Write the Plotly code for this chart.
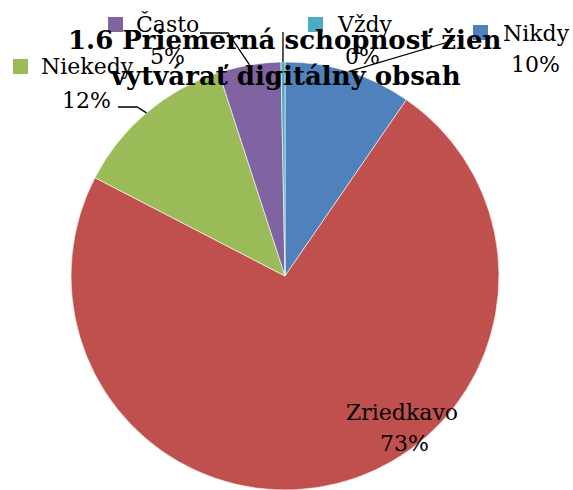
import math
import plotly.graph_objects as go

# slices, clockwise from 12 o'clock
labels = ["Nikdy", "Zriedkavo", "Niekedy", "Často", "Vždy"]
values = [9.6, 73.0, 12.4, 4.7, 0.3]
colors = ["#4F81BD", "#C0504D", "#9BBB59", "#8064A2", "#4BACC6"]

title_lines = ["1.6 Priemerná schopnosť žien", "vytvárať digitálny obsah"]

W, H = 573, 490
# pie geometry in pixels
cx, cy, r = 285, 276, 214

def px(x):
    return x / W

def py(y):
    return 1 - y / H

total = sum(values)
pcts = [round(v / total * 100) for v in values]

fig = go.Figure(go.Pie(
    labels=labels, values=values, sort=False, direction="clockwise", rotation=0,
    marker=dict(colors=colors, line=dict(color="white", width=0.6)),
    textinfo="none", hoverinfo="label+percent", showlegend=False,
    domain=dict(x=[px(cx - r), px(cx + r)], y=[py(cy + r), py(cy - r)]),
))

# edge point of each slice at its mid angle
edge = {}
acc = 0
for lab, v in zip(labels, values):
    mid = (acc + v / 2) / total * 2 * math.pi
    edge[lab] = (cx + r * math.sin(mid), cy - r * math.cos(mid))
    acc += v

# label placement: name centre, pct centre, key square, leader start points
place = {
    "Často": dict(name=(167, 24), pct=(167, 57), key=(108, 17), lead=[(200, 33), (228, 33)]),
    "Vždy": dict(name=(365, 24), pct=(362, 57), key=(308, 17), lead=[(283, 32)]),
    "Nikdy": dict(name=(536, 33), pct=(535, 64), key=(473, 25), lead=[(455, 40)]),
    "Niekedy": dict(name=(87, 66), pct=(86, 100), key=(13, 59), lead=[(118, 107), (137, 107)]),
    "Zriedkavo": dict(name=(402, 412), pct=(404, 443), key=None, lead=None),
}

lab_font = dict(family="DejaVu Serif", size=22, color="black")
for lab, col, p in zip(labels, colors, pcts):
    pl = place[lab]
    if pl["lead"]:
        pts = pl["lead"] + [edge[lab]]
        path = "M " + " L ".join(f"{px(x)},{py(y)}" for x, y in pts)
        fig.add_shape(type="path", path=path, xref="paper", yref="paper",
                      line=dict(color="black", width=1.3))
    if pl["key"]:
        kx, ky = pl["key"]
        fig.add_shape(type="rect", xref="paper", yref="paper",
                      x0=px(kx), x1=px(kx + 15), y0=py(ky + 15), y1=py(ky),
                      fillcolor=col, line=dict(width=0))
    fig.add_annotation(text=lab, x=px(pl["name"][0]), y=py(pl["name"][1]),
                       xref="paper", yref="paper", xanchor="center", yanchor="middle",
                       showarrow=False, font=lab_font)
    fig.add_annotation(text=f"{p}%", x=px(pl["pct"][0]), y=py(pl["pct"][1]),
                       xref="paper", yref="paper", xanchor="center", yanchor="middle",
                       showarrow=False, font=lab_font)

title_font = dict(family="DejaVu Serif", size=26, color="black")
for line, ty in zip(title_lines, [40, 76]):
    fig.add_annotation(text=f"<b>{line}</b>", x=px(285), y=py(ty), xref="paper", yref="paper",
                       xanchor="center", yanchor="middle", showarrow=False, font=title_font)

fig.update_layout(
    width=W, height=H,
    margin=dict(l=0, r=0, t=0, b=0),
    paper_bgcolor="white", plot_bgcolor="white",
)

# drop the default page margin so the figure fills the window exactly
fig.write_html("out.html", config={"displayModeBar": False},
               post_script="document.body.style.margin='0';document.body.style.overflow='hidden';")
